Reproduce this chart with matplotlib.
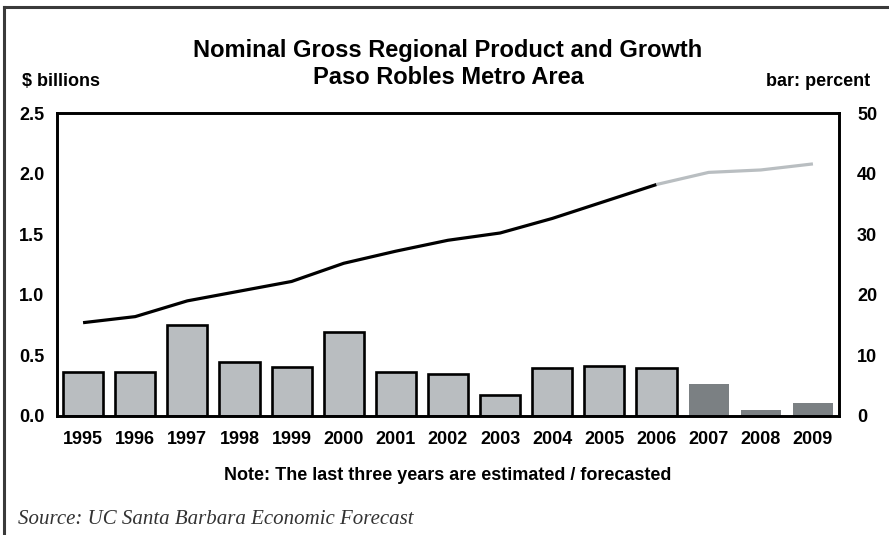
import matplotlib
matplotlib.use("Agg")
import matplotlib.pyplot as plt
from matplotlib.lines import Line2D
import numpy as np

years = ["1995", "1996", "1997", "1998", "1999", "2000", "2001", "2002",
         "2003", "2004", "2005", "2006", "2007", "2008", "2009"]
# nominal GRP, $ billions (left axis)
grp = [0.77, 0.82, 0.95, 1.03, 1.11, 1.26, 1.36, 1.45, 1.51, 1.63, 1.77, 1.91,
       2.01, 2.03, 2.08]
# growth, percent (right axis, bars)
growth = [7.3, 7.2, 15.0, 8.9, 8.1, 13.9, 7.3, 6.9, 3.4, 7.9, 8.2, 7.9,
          5.3, 1.0, 2.1]
n_forecast = 3
left_ticks = [0.0, 0.5, 1.0, 1.5, 2.0, 2.5]
right_ticks = [0, 10, 20, 30, 40, 50]

plt.rcParams["font.family"] = ["Liberation Sans", "DejaVu Sans"]

W, H = 889, 535
fig = plt.figure(figsize=(W / 100, H / 100), dpi=100)
fig.patch.set_facecolor("white")

# frame around the figure (left and top edges visible)
border = "#3a3a3a"
fig.add_artist(Line2D([4 / W, 4 / W], [0, 1 - 7 / H], transform=fig.transFigure,
                      color=border, lw=2.2))
fig.add_artist(Line2D([4 / W, 1], [1 - 7 / H, 1 - 7 / H], transform=fig.transFigure,
                      color=border, lw=2.2))

ax = fig.add_axes([57 / W, (H - 416) / H, 782 / W, 303 / H])
x = np.arange(len(years))
n_hist = len(years) - n_forecast

hist_color = "#b9bdc0"
fc_color = "#7b8083"
ax.bar(x[:n_hist], growth[:n_hist], width=0.77, color=hist_color,
       edgecolor="black", linewidth=1.9, zorder=2)
ax.bar(x[n_hist:], growth[n_hist:], width=0.77, color=fc_color,
       edgecolor="none", zorder=2)
ax.set_ylim(0, 50)
ax.set_xlim(-0.5, len(years) - 0.5)
ax.set_xticks(x)
ax.set_xticklabels(years, fontsize=13, fontweight="bold")
ax.tick_params(axis="x", length=0, pad=11)

ax2 = ax.twinx()
ax2.plot(x[:n_hist], grp[:n_hist], color="black", lw=2.3,
         solid_capstyle="butt", zorder=3)
ax2.plot(x[n_hist - 1:], grp[n_hist - 1:], color="#b9bec1", lw=2.3,
         solid_capstyle="butt", zorder=3)
ax2.set_ylim(0, 2.5)

# bars use the right scale, the line the left one
ax.yaxis.tick_right()
ax.set_yticks(right_ticks)
ax.set_yticklabels([str(t) for t in right_ticks], fontsize=13, fontweight="bold")
ax.tick_params(axis="y", length=0, pad=13)
ax2.yaxis.tick_left()
ax2.set_yticks(left_ticks)
ax2.set_yticklabels([f"{t:.1f}" for t in left_ticks], fontsize=13, fontweight="bold")
ax2.tick_params(axis="y", length=0, pad=9)

for a in (ax, ax2):
    for s in a.spines.values():
        s.set_linewidth(1.9)
        s.set_color("black")

fig.text(448 / W, 1 - 50 / H, "Nominal Gross Regional Product and Growth",
         ha="center", va="center", fontsize=17, fontweight="bold")
fig.text(448 / W, 1 - 78 / H, "Paso Robles Metro Area",
         ha="center", va="center", fontsize=17, fontweight="bold")
fig.text(22 / W, 1 - 81 / H, "$ billions", ha="left", va="center",
         fontsize=13, fontweight="bold")
fig.text(870 / W, 1 - 81 / H, "bar: percent", ha="right", va="center",
         fontsize=13, fontweight="bold")
fig.text(448 / W, 1 - 475 / H, "Note: The last three years are estimated / forecasted",
         ha="center", va="center", fontsize=13, fontweight="bold")
fig.text(18 / W, 1 - 519 / H, "Source: UC Santa Barbara Economic Forecast",
         ha="left", va="center", fontsize=15, fontstyle="italic",
         family=["Liberation Serif", "DejaVu Serif"], color="#333333")

fig.savefig("out.png", dpi=100)
